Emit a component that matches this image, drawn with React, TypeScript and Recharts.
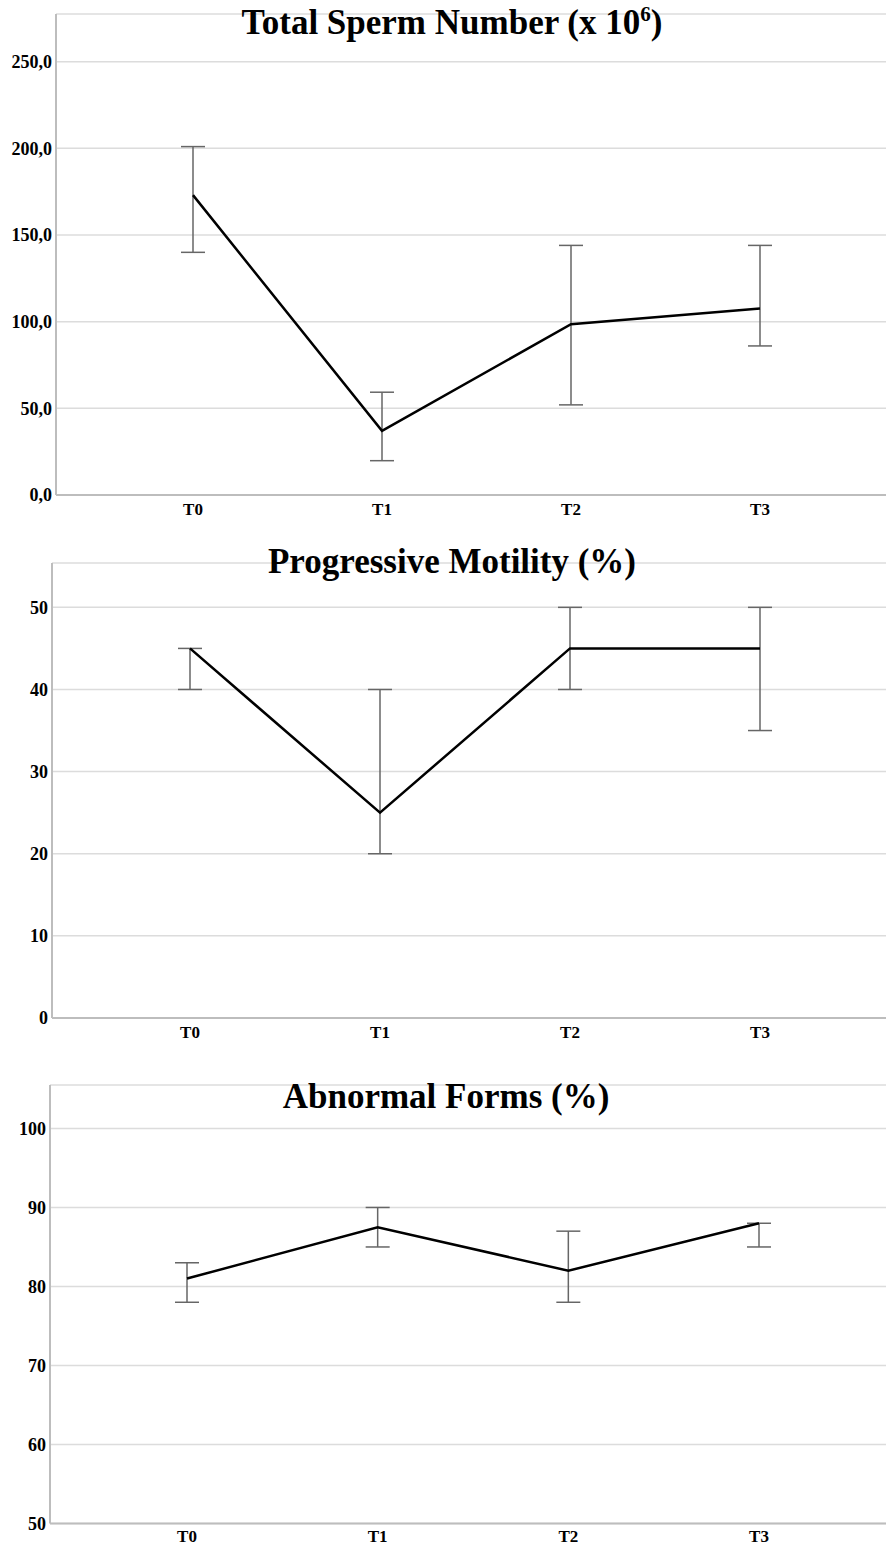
import React from 'react';
import { LineChart, Line, XAxis, YAxis, CartesianGrid, ErrorBar } from 'recharts';

const categories = ['T0', 'T1', 'T2', 'T3'];

const spermMean = [173, 37, 98.5, 107.6];
const spermLow = [140, 19.8, 52, 86];
const spermHigh = [201, 59.3, 144, 144];
const spermTicks = [0, 50, 100, 150, 200, 250];

const motilityMean = [45, 25, 45, 45];
const motilityLow = [40, 20, 40, 35];
const motilityHigh = [45, 40, 50, 50];
const motilityTicks = [0, 10, 20, 30, 40, 50];

const abnormalMean = [81, 87.5, 82, 88];
const abnormalLow = [78, 85, 78, 85];
const abnormalHigh = [83, 90, 87, 88];
const abnormalTicks = [50, 60, 70, 80, 90, 100];

const build = (mean: number[], low: number[], high: number[]) =>
  categories.map((c, i) => ({
    cat: c,
    value: mean[i],
    err: [mean[i] - low[i], high[i] - mean[i]],
  }));

const FONT = '"Liberation Serif", "Times New Roman", serif';
const tickStyle = { fontFamily: FONT, fontWeight: 700, fontSize: 18, fill: '#000' };

type PanelProps = {
  data: any[];
  top: number;
  plotTop: number;
  plotBottom: number;
  axisX: number;
  padLeft: number;
  padRight: number;
  domain: [number, number];
  ticks: number[];
  fmt?: (v: number) => string;
  xAxisHeight: number;
  xTickMargin: number;
};

function Panel(p: PanelProps) {
  const height = p.plotBottom - p.top + p.xAxisHeight;
  return (
    <div style={{ position: 'absolute', left: 0, top: p.top }}>
      <LineChart
        width={886}
        height={height}
        data={p.data}
        margin={{ top: p.plotTop - p.top, right: 0, bottom: 0, left: 0 }}
      >
        <CartesianGrid horizontal vertical={false} stroke="#dcdcdc" strokeWidth={1.5} />
        <XAxis
          dataKey="cat"
          type="category"
          interval={0}
          height={p.xAxisHeight}
          padding={{ left: p.padLeft, right: p.padRight }}
          tickLine={false}
          tickSize={0}
          tickMargin={p.xTickMargin}
          axisLine={{ stroke: '#bdbdbd', strokeWidth: 2 }}
          tick={{ ...tickStyle, fontSize: 17 }}
        />
        <YAxis
          type="number"
          width={p.axisX}
          domain={p.domain}
          ticks={p.ticks}
          allowDataOverflow
          tickLine={false}
          tickSize={0}
          tickMargin={4}
          axisLine={{ stroke: '#bdbdbd', strokeWidth: 2 }}
          tick={tickStyle}
          tickFormatter={p.fmt}
        />
        <Line
          dataKey="value"
          type="linear"
          stroke="#000"
          strokeWidth={2.5}
          dot={false}
          activeDot={false}
          isAnimationActive={false}
        >
          <ErrorBar dataKey="err" direction="y" width={12} stroke="#666" strokeWidth={1.5} />
        </Line>
      </LineChart>
    </div>
  );
}

export default function App() {
  return (
    <div
      style={{
        position: 'absolute',
        left: 0,
        top: 0,
        width: 886,
        height: 1546,
        overflow: 'hidden',
        background: '#fff',
      }}
    >
      <Panel
        data={build(spermMean, spermLow, spermHigh)}
        top={4}
        plotTop={14}
        plotBottom={495}
        axisX={56}
        padLeft={137}
        padRight={126}
        domain={[0, 277.5]}
        ticks={spermTicks}
        fmt={(v: number) => v.toFixed(1).replace('.', ',')}
        xAxisHeight={35}
        xTickMargin={8}
      />
      <Panel
        data={build(motilityMean, motilityLow, motilityHigh)}
        top={553}
        plotTop={563}
        plotBottom={1018}
        axisX={52}
        padLeft={138}
        padRight={126}
        domain={[0, 55.4]}
        ticks={motilityTicks}
        xAxisHeight={35}
        xTickMargin={8}
      />
      <Panel
        data={build(abnormalMean, abnormalLow, abnormalHigh)}
        top={1075}
        plotTop={1085}
        plotBottom={1523.5}
        axisX={50}
        padLeft={137}
        padRight={127}
        domain={[50, 105.5]}
        ticks={abnormalTicks}
        xAxisHeight={22.5}
        xTickMargin={6}
      />
      <svg
        width={886}
        height={1546}
        style={{ position: 'absolute', left: 0, top: 0, pointerEvents: 'none' }}
      >
        <g fontFamily={FONT} fontWeight={700} fontSize={35} fill="#000" textAnchor="middle">
          <text x={452} y={34}>
            Total Sperm Number (x 10
            <tspan fontSize={21} dy={-13}>6</tspan>
            <tspan dy={13}>)</tspan>
          </text>
          <text x={452} y={573}>Progressive Motility (%)</text>
          <text x={446} y={1108}>Abnormal Forms (%)</text>
        </g>
      </svg>
    </div>
  );
}
